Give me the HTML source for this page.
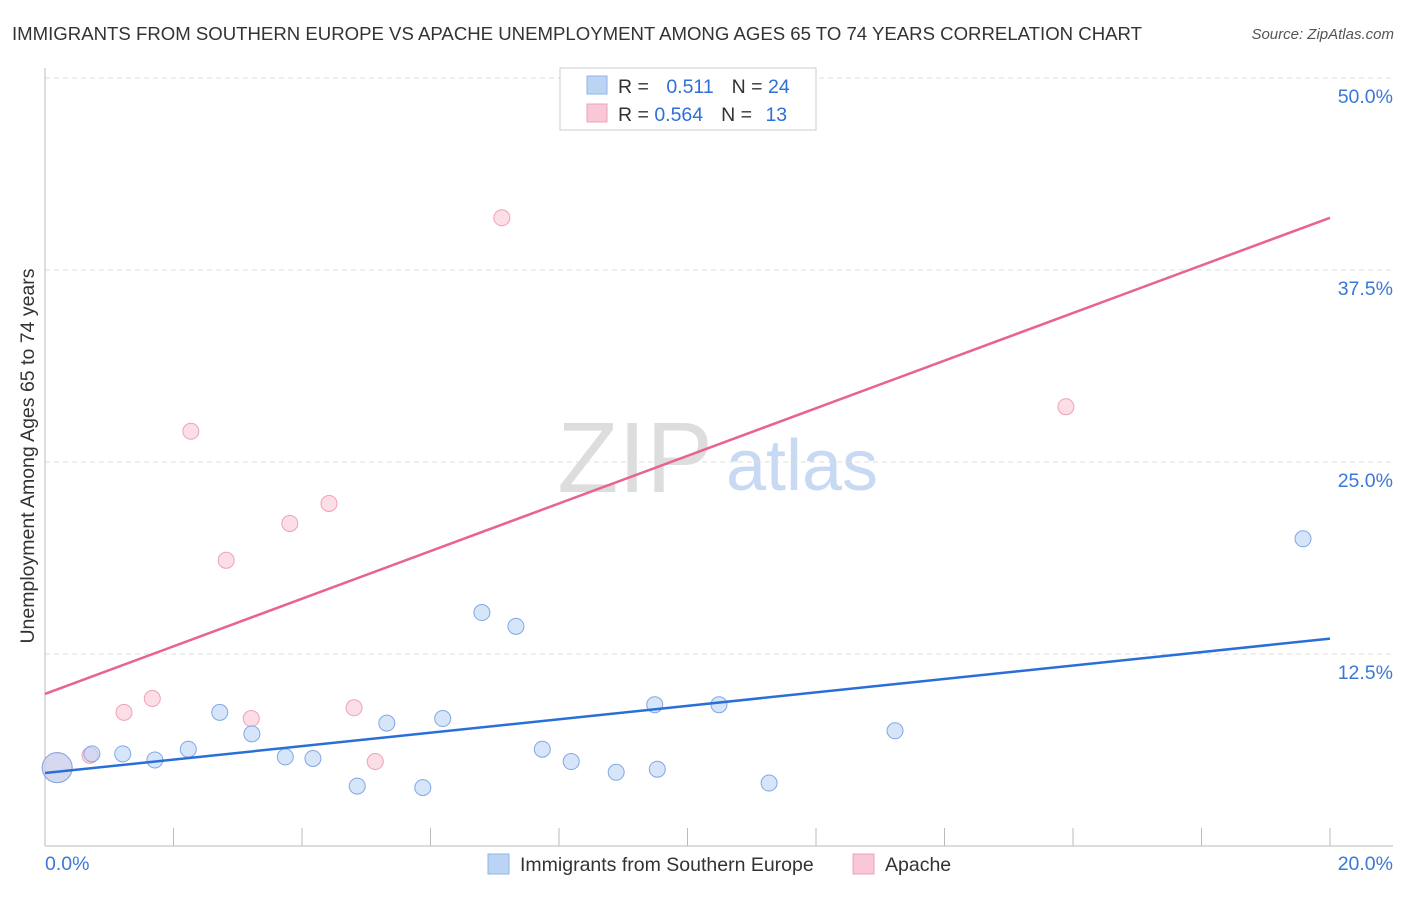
<!DOCTYPE html>
<html><head><meta charset="utf-8"><style>
body{margin:0;background:#fff;font-family:"Liberation Sans",sans-serif;}
svg text{font-family:"Liberation Sans",sans-serif;}
</style></head><body>
<svg id="chart" width="1406" height="892">
<text x="12" y="40" font-size="18.6" fill="#333">IMMIGRANTS FROM SOUTHERN EUROPE VS APACHE UNEMPLOYMENT AMONG AGES 65 TO 74 YEARS CORRELATION CHART</text>
<text x="1394" y="39" font-size="15" fill="#555" font-style="italic" text-anchor="end">Source: ZipAtlas.com</text>
<text x="34" y="456" font-size="19.5" fill="#333" text-anchor="middle" transform="rotate(-90 34 456)">Unemployment Among Ages 65 to 74 years</text>
<g><text x="635" y="492" font-size="100" fill="#ddd" text-anchor="middle" font-family="Liberation Serif">ZIP</text><text x="802" y="490" font-size="72" fill="#c8daf3" text-anchor="middle">atlas</text></g>
<g id="grid"></g><g id="axes"></g><g id="marks"></g>
<g>
<rect x="560" y="68" width="256" height="62" fill="#fff" stroke="#ccc"/>
<rect x="587" y="76" width="20" height="18" fill="#bcd4f4" stroke="#8fb4ea"/>
<rect x="587" y="104" width="20" height="18" fill="#f9c8d6" stroke="#f0a0b8"/>
<text x="618" y="93" font-size="19.5" fill="#333">R = <tspan fill="#2f6fd6" dx="12">0.511</tspan><tspan dx="18" fill="#333">N = </tspan><tspan fill="#2f6fd6">24</tspan></text>
<text x="618" y="121" font-size="19.5" fill="#333">R = <tspan fill="#2f6fd6">0.564</tspan><tspan dx="18" fill="#333">N = </tspan><tspan fill="#2f6fd6" dx="8">13</tspan></text>
</g>
<g>
<rect x="488" y="854" width="21" height="20" fill="#bcd4f4" stroke="#8fb4ea"/>
<text x="520" y="871" font-size="19.5" fill="#333">Immigrants from Southern Europe</text>
<rect x="853" y="854" width="21" height="20" fill="#f9c8d6" stroke="#f0a0b8"/>
<text x="885" y="871" font-size="19.5" fill="#333">Apache</text>
</g>
</svg>
<script>
const blueX=[0.19,0.73,1.21,1.71,2.23,2.72,3.22,3.74,4.17,4.86,5.32,5.88,6.19,6.80,7.33,7.74,8.19,8.89,9.49,9.53,10.49,11.27,13.23,19.58];
const blueY=[5.1,6.0,6.0,5.6,6.3,8.7,7.3,5.8,5.7,3.9,8.0,3.8,8.3,15.2,14.3,6.3,5.5,4.8,9.2,5.0,9.2,4.1,7.5,20.0];
const pinkX=[0.19,0.70,1.23,1.67,2.27,2.82,3.21,3.81,4.42,4.81,5.14,7.11,15.89];
const pinkY=[5.1,5.9,8.7,9.6,27.0,18.6,8.3,21.0,22.3,9.0,5.5,40.9,28.6];
const blueLine=[4.75,13.5];
const pinkLine=[9.9,40.9];
const yTicks=[12.5,25.0,37.5,50.0];
const xTickLabels=["0.0%","20.0%"];
const NS="http://www.w3.org/2000/svg";
const X=v=>45+v/20*1285, Y=v=>846-v/12.5*192;
function mk(p,t,a){const e=document.createElementNS(NS,t);for(const k in a)e.setAttribute(k,a[k]);p.appendChild(e);return e;}
const grid=document.getElementById('grid'),axes=document.getElementById('axes'),marks=document.getElementById('marks');
yTicks.forEach(v=>{
 const l=mk(grid,'line',{x1:45,x2:1393,y1:Y(v),y2:Y(v),stroke:'#ddd','stroke-dasharray':'5,4'});
 
 
 const t=mk(grid,'text',{x:1393,y:Y(v)+25,'font-size':19.5,fill:'#3a78d8','text-anchor':'end'});t.textContent=v.toFixed(1)+'%';
 
 
});
mk(axes,'line',{x1:45,x2:45,y1:68,y2:846,stroke:'#bbb'});
mk(axes,'line',{x1:45,x2:1393,y1:846,y2:846,stroke:'#bbb'});
for(let i=1;i<=10;i++){const x=X(i*2);mk(axes,'line',{x1:x,x2:x,y1:828,y2:846,stroke:'#bbb'});}
const xl0=mk(axes,'text',{x:45,y:870,'font-size':19.5,fill:'#3a78d8'});xl0.textContent=xTickLabels[0];


const xl1=mk(axes,'text',{x:1393,y:870,'font-size':19.5,fill:'#3a78d8','text-anchor':'end'});xl1.textContent=xTickLabels[1];


function pts(xs,ys,fill,stroke,name){xs.forEach((x,i)=>{
 const c=mk(marks,'circle',{cx:X(x),cy:Y(ys[i]),r:i===0?15:8,fill:fill,stroke:stroke,'stroke-width':1,'fill-opacity':0.6});
 
 
});}
pts(pinkX,pinkY,'#f9c8d6','#f0a0b8','apache-point');
pts(blueX,blueY,'#bcd4f4','#7fa8e6','immigrants-point');
const bl=mk(marks,'line',{x1:X(0),y1:Y(blueLine[0]),x2:X(20),y2:Y(blueLine[1]),stroke:'#2a6fd8','stroke-width':2.5});


const pl=mk(marks,'line',{x1:X(0),y1:Y(pinkLine[0]),x2:X(20),y2:Y(pinkLine[1]),stroke:'#e8648c','stroke-width':2.5});


</script>
</body></html>
